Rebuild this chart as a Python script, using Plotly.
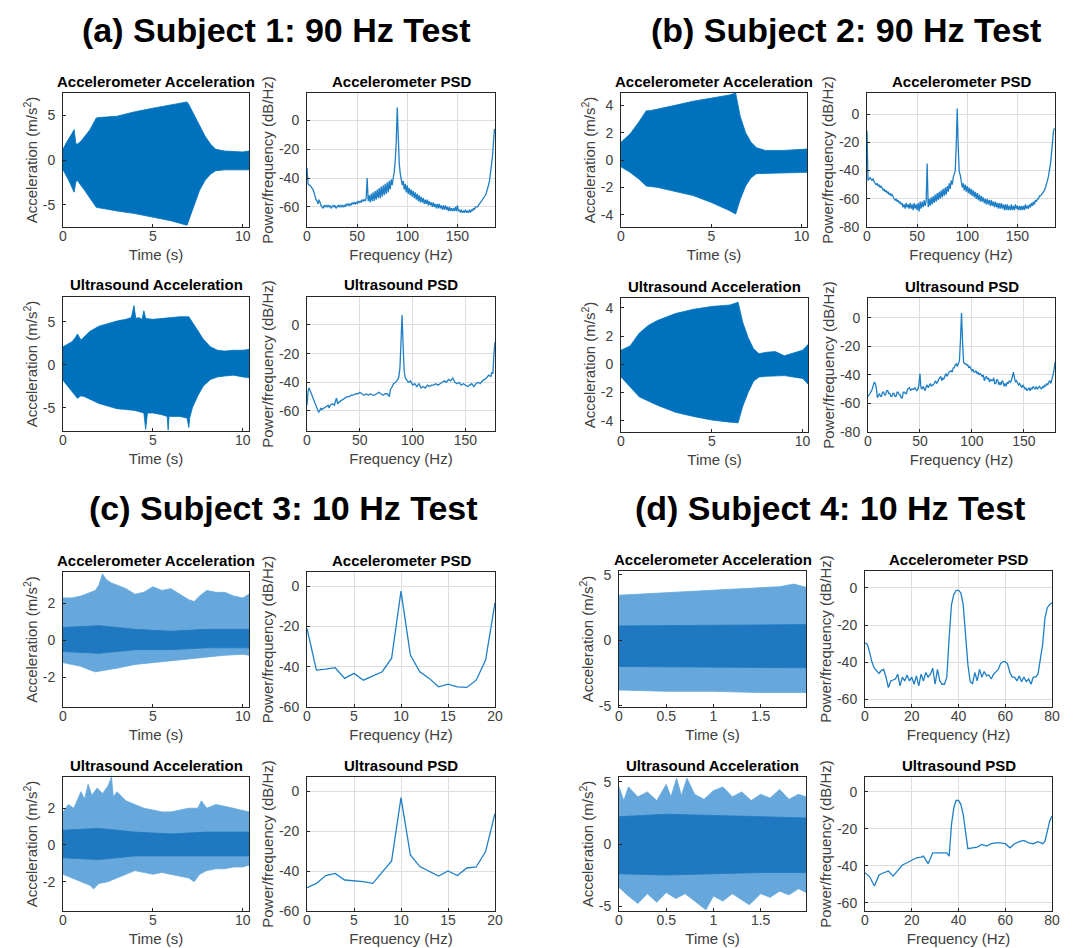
import plotly.graph_objects as go

W, H = 1079, 948
FONT = "Liberation Sans, Arial, sans-serif"
BLUE = "#0072BD"
LINE = "#1f7fc6"
LIGHT = "#66a8dc"
DARK = "#1f78c0"
TICKC = "#404040"

# ---------------- data: (a) Subject 1 ----------------
a_acc_t_up = [0, 0.2, 0.45, 0.62, 0.72, 0.8, 1.0, 1.2, 1.5, 1.85, 2.0, 3.0, 4.0, 5.0, 6.0, 6.9, 7.0, 7.3, 7.6, 7.9, 8.2, 8.5, 9.0, 10.0, 10.35]
a_acc_up = [1.2, 2.0, 2.8, 3.4, 1.8, 1.8, 2.1, 2.6, 3.4, 4.7, 4.75, 4.9, 5.4, 5.8, 6.2, 6.5, 6.2, 5.0, 3.8, 2.7, 1.8, 1.2, 1.0, 0.9, 1.0]
a_acc_t_lo = [0, 0.3, 0.62, 0.72, 0.8, 1.2, 1.85, 2.0, 3.0, 4.0, 5.0, 6.0, 6.9, 7.0, 7.3, 7.6, 7.9, 8.2, 8.5, 9.0, 10.35]
a_acc_lo = [-1.1, -2.2, -3.6, -2.4, -2.3, -3.4, -5.3, -5.4, -5.7, -6.0, -6.4, -6.8, -7.3, -6.8, -5.0, -3.4, -2.3, -1.6, -1.2, -1.1, -1.1]

a_acc_psd = [-33, -44, -45, -45, -46, -47, -48, -50, -53, -55, -56, -58, -55, -58, -59, -60, -61, -59, -60, -59,
             -60, -59, -60, -59, -61, -60, -59, -60, -59, -61, -60, -59, -60, -59, -60, -59, -60, -59, -60, -58,
             -59, -58, -59, -58, -59, -57, -58, -57, -58, -57, -58, -56, -57, -56, -57, -55, -56, -55, -56, -54,
             -40, -56, -52, -57, -51, -56, -50, -56, -49, -55, -48, -54, -47, -54, -46, -53, -45, -52, -44, -51,
             -43, -50, -42, -48, -41, -45, -40, -36, -28, -15, 9, -16, -30, -37, -41, -45, -42, -48, -44, -50,
             -45, -51, -47, -52, -48, -53, -49, -54, -50, -55, -51, -56, -52, -57, -53, -57, -54, -58, -55, -58,
             -55, -59, -56, -59, -57, -60, -57, -60, -58, -61, -58, -61, -58, -61, -59, -62, -59, -62, -59, -62,
             -60, -63, -60, -63, -61, -63, -61, -63, -60, -63, -59, -63, -62, -64, -62, -64, -63, -64, -62, -64,
             -63, -64, -62, -64, -62, -63, -61, -62, -60, -60, -60, -59, -58, -57, -56, -55, -54, -53, -52, -50,
             -48, -45, -42, -37, -32, -25, -15, -6]

a_us_t_up = [0, 0.3, 0.5, 0.7, 0.8, 1.0, 1.5, 2.0, 2.5, 3.0, 3.5, 3.8, 3.95, 4.05, 4.2, 4.4, 4.5, 4.6, 5.0, 5.5, 6.0, 6.5, 7.0, 7.2, 7.5, 7.8, 8.2, 8.6, 9.0, 9.5, 10.0, 10.35]
a_us_up = [2.1, 2.5, 2.7, 3.2, 3.6, 2.9, 3.9, 4.5, 4.8, 5.1, 5.3, 5.5, 6.9, 5.4, 5.5, 5.3, 6.3, 5.4, 5.3, 5.4, 5.5, 5.6, 5.6, 5.0, 4.0, 3.0, 2.1, 1.7, 1.6, 1.7, 1.7, 1.8]
a_us_t_lo = [0, 0.3, 0.5, 0.8, 1.0, 1.2, 1.5, 2.0, 2.5, 3.0, 3.5, 4.0, 4.5, 4.6, 4.7, 5.0, 5.5, 5.8, 5.85, 5.9, 6.0, 6.5, 6.9, 7.0, 7.05, 7.2, 7.5, 7.8, 8.2, 8.6, 9.0, 9.5, 10.0, 10.35]
a_us_lo = [-1.8, -2.6, -3.1, -3.9, -3.6, -3.7, -4.0, -4.5, -4.8, -5.1, -5.2, -5.3, -5.6, -7.5, -5.6, -5.6, -5.8, -6.0, -7.6, -6.0, -6.0, -6.0, -6.2, -7.3, -6.2, -5.0, -3.6, -2.5, -1.7, -1.4, -1.3, -1.2, -1.4, -1.5]

a_us_f = [0, 1, 2, 3, 4, 6, 8, 10, 11, 12, 13, 14, 16, 18, 20, 21, 22, 24, 26, 27, 28, 29, 30, 32, 34, 36, 38, 40, 42, 44,
          46, 48, 50, 52, 54, 56, 58, 60, 62, 64, 66, 68, 70, 72, 74, 76, 78, 79, 80, 82, 84, 86, 87, 88, 89, 90, 91, 92, 93, 94,
          96, 98, 100, 102, 104, 106, 108, 110, 112, 114, 116, 118, 120, 122, 124, 126, 128, 130, 132, 134, 136, 138, 140, 142, 144, 146, 148, 150, 152, 154,
          156, 158, 160, 162, 164, 166, 168, 170, 172, 174, 175, 176, 177, 178]
a_us_psd = [-56, -46, -44, -46, -48, -51, -55, -59, -61, -60, -58, -59, -58, -57, -56, -58, -56, -55, -56, -53, -51, -55, -54, -53, -52, -51, -50, -50, -49, -49,
            -48, -48, -47, -48, -49, -48, -49, -48, -49, -49, -48, -47, -48, -49, -48, -48, -50, -45, -44, -41, -40, -38, -36, -30, -12, 7, -14, -32, -37, -38,
            -40, -39, -42, -41, -43, -41, -44, -43, -44, -42, -43, -42, -42, -41, -42, -41, -40, -39, -40, -38, -39, -37, -40, -41, -40, -42, -41, -42, -43, -42,
            -41, -43, -41, -40, -41, -39, -38, -37, -35, -36, -33, -34, -20, -12]

# ---------------- data: (b) Subject 2 ----------------
b_acc_t_up = [0, 0.5, 1.0, 1.4, 1.6, 2.0, 3.0, 4.0, 5.0, 6.0, 6.35, 6.6, 6.9, 7.2, 7.5, 8.0, 9.0, 10.3]
b_acc_up = [1.3, 1.9, 2.8, 3.6, 3.6, 3.7, 4.0, 4.3, 4.5, 4.75, 4.9, 3.2, 2.0, 1.3, 0.9, 0.7, 0.7, 0.8]
b_acc_t_lo = [0, 0.5, 1.0, 1.4, 2.0, 3.0, 4.0, 5.0, 6.0, 6.35, 6.6, 6.9, 7.2, 7.5, 8.0, 9.0, 10.3]
b_acc_lo = [-0.5, -0.9, -1.4, -1.9, -2.0, -2.3, -2.6, -3.1, -3.7, -3.95, -2.9, -1.9, -1.3, -1.0, -0.95, -0.95, -0.9]

b_acc_psd = [-12, -47, -46, -45, -46, -47, -46, -48, -49, -50, -49, -51, -50, -52, -51, -52, -54, -53, -55, -54,
             -56, -55, -57, -56, -58, -57, -59, -60, -61, -60, -62, -61, -63, -62, -64, -63, -66, -64, -67, -63,
             -66, -64, -67, -63, -67, -64, -68, -63, -67, -64, -68, -63, -69, -62, -67, -62, -66, -61, -65, -62,
             -35, -66, -60, -65, -59, -64, -58, -63, -57, -62, -56, -61, -55, -60, -54, -59, -53, -58, -52, -57,
             -51, -55, -49, -53, -47, -50, -45, -42, -40, -22, 4, -24, -41, -43, -47, -52, -49, -54, -50, -55,
             -51, -56, -52, -57, -53, -58, -54, -59, -55, -60, -56, -61, -57, -62, -58, -62, -59, -63, -60, -64,
             -60, -64, -61, -65, -61, -65, -62, -66, -62, -66, -63, -67, -63, -67, -63, -67, -64, -68, -64, -68,
             -64, -68, -65, -68, -64, -68, -65, -68, -64, -67, -65, -68, -65, -68, -65, -68, -65, -68, -64, -67,
             -65, -67, -64, -66, -63, -65, -62, -64, -61, -62, -60, -60, -58, -58, -57, -56, -55, -54, -52, -50,
             -47, -44, -40, -35, -28, -20, -12, -10]

b_us_t_up = [0, 0.5, 1.0, 1.5, 2.0, 3.0, 4.0, 5.0, 6.0, 6.45, 6.7, 7.0, 7.3, 7.6, 8.0, 8.5, 9.0, 9.5, 10.0, 10.3]
b_us_up = [1.0, 1.3, 2.2, 2.75, 3.1, 3.6, 3.9, 4.1, 4.2, 4.4, 3.0, 1.9, 1.1, 0.75, 0.85, 0.9, 0.6, 0.8, 1.0, 1.4]
b_us_t_lo = [0, 0.5, 1.0, 2.0, 3.0, 4.0, 5.0, 6.0, 6.45, 6.7, 7.0, 7.3, 7.6, 8.0, 9.0, 10.0, 10.3]
b_us_lo = [-0.9, -1.6, -2.3, -2.9, -3.4, -3.7, -3.95, -4.1, -4.15, -3.0, -2.0, -1.2, -0.9, -0.85, -0.8, -1.0, -1.4]

b_us_f = [0, 2, 4, 6, 7, 8, 9, 10, 11, 12, 13, 14, 15, 16, 17, 18, 19, 20, 21, 22, 23, 24, 25, 26, 27, 28, 29, 30, 31, 32,
          33, 34, 35, 36, 37, 38, 40, 41, 42, 44, 45, 47, 48, 49, 50, 51, 52, 53, 54, 55, 56, 57, 58, 60, 61, 62, 63, 64, 65, 66,
          67, 68, 70, 71, 72, 73, 74, 75, 76, 77, 78, 80, 81, 82, 83, 84, 85, 86, 87, 88, 89, 90, 91, 92, 93, 94, 95, 96, 97, 98,
          100, 101, 102, 103, 104, 105, 106, 107, 108, 110, 111, 112, 113, 114, 115, 116, 117, 118, 119, 120, 121, 122, 123, 124, 125, 126, 127, 128, 129, 130,
          131, 132, 133, 134, 135, 136, 137, 138, 139, 140, 141, 142, 143, 144, 145, 146, 147, 148, 149, 150, 151, 152, 153, 154, 155, 156, 157, 158, 159, 160,
          161, 162, 163, 164, 165, 166, 167, 168, 169, 170, 171, 172, 173, 174, 175, 176, 177, 178, 179, 180]
b_us_psd = [-55, -53, -50, -45, -46, -49, -56, -54, -53, -55, -55, -52, -52, -54, -54, -51, -51, -53, -53, -55, -55, -53, -53, -55, -55, -52, -52, -54, -54, -56,
            -56, -52, -52, -53, -53, -50, -49, -51, -50, -50, -49, -51, -50, -47, -39, -49, -50, -48, -50, -51, -48, -47, -49, -46, -48, -47, -47, -45, -44, -46,
            -45, -43, -41, -44, -42, -43, -40, -39, -41, -39, -38, -37, -38, -35, -35, -33, -32, -34, -31, -30, -16, 3.5, -16, -31, -32, -32, -33, -33, -35, -34,
            -37, -36, -38, -38, -37, -39, -38, -40, -39, -41, -40, -44, -42, -41, -43, -42, -45, -43, -44, -44, -42, -46, -46, -43, -44, -47, -45, -47, -44, -45,
            -48, -46, -48, -45, -46, -44, -45, -44, -41, -38, -42, -45, -44, -46, -47, -46, -48, -49, -47, -48, -50, -49, -51, -50, -49, -51, -49, -50, -48, -49,
            -50, -48, -50, -49, -48, -49, -50, -48, -49, -47, -48, -46, -47, -45, -44, -46, -43, -42, -37, -31]

# ---------------- data: (c) Subject 3 ----------------
c_acc_t_up = [0, 0.5, 1.0, 1.5, 1.8, 2.0, 2.2, 2.4, 2.7, 3.0, 3.5, 4.0, 4.5, 5.0, 5.5, 6.0, 6.5, 7.0, 7.3, 7.6, 8.0, 8.5, 9.0, 9.5, 10.0, 10.35]
c_acc_up = [2.3, 2.3, 2.4, 2.6, 2.7, 3.0, 3.6, 3.3, 3.1, 3.0, 2.8, 2.5, 2.6, 2.9, 2.7, 2.8, 2.5, 2.2, 2.1, 2.4, 2.7, 2.6, 2.6, 2.4, 2.3, 2.5]
c_acc_t_lo = [0, 0.5, 1.0, 1.5, 1.8, 2.5, 3.0, 4.0, 5.0, 6.0, 7.0, 8.0, 9.0, 10.0, 10.35]
c_acc_lo = [-1.2, -1.3, -1.4, -1.6, -1.7, -1.6, -1.5, -1.3, -1.2, -1.1, -1.0, -0.9, -0.8, -0.75, -0.8]
c_acc_t_in = [0, 2, 4, 6, 8, 10.35]
c_acc_in_up = [0.7, 0.8, 0.6, 0.5, 0.6, 0.6]
c_acc_in_lo = [-0.6, -0.7, -0.5, -0.5, -0.4, -0.4]

c_psd_f = [0, 1, 2, 3, 4, 5, 6, 7, 8, 9, 10, 11, 12, 13, 14, 15, 16, 17, 18, 19, 20]
c_acc_psd = [-21, -41.7, -41.2, -40.5, -45.8, -43.3, -46.7, -44.5, -42.5, -35.8, -2.5, -34.2, -42.5, -45.8, -50, -48.7, -50, -50.3, -46.7, -36.7, -8.3]

c_us_t_up = [0, 0.3, 0.6, 1.0, 1.2, 1.4, 1.6, 1.9, 2.2, 2.5, 2.7, 2.8, 3.0, 3.5, 4.0, 4.5, 5.0, 5.5, 6.0, 6.5, 7.0, 7.5, 7.7, 8.0, 8.5, 9.0, 9.5, 10.0, 10.35]
c_us_up = [1.8, 2.2, 2.0, 2.9, 2.5, 3.3, 2.7, 3.1, 2.8, 3.2, 3.7, 2.6, 2.9, 2.4, 2.2, 2.0, 1.9, 1.8, 1.8, 1.9, 2.0, 2.0, 2.4, 2.0, 2.2, 2.1, 2.0, 1.9, 1.8]
c_us_t_lo = [0, 0.5, 1.0, 1.5, 1.7, 2.0, 2.5, 3.0, 3.5, 4.0, 4.5, 5.0, 5.5, 6.0, 6.5, 7.0, 7.3, 7.6, 8.0, 8.5, 9.0, 9.5, 10.0, 10.35]
c_us_lo = [-1.6, -1.8, -2.0, -2.2, -2.4, -2.1, -2.0, -1.8, -1.6, -1.4, -1.5, -1.6, -1.5, -1.6, -1.7, -1.8, -2.0, -1.6, -1.4, -1.3, -1.3, -1.2, -1.2, -1.1]
c_us_t_in = [0, 2, 4, 6, 8, 10.35]
c_us_in_up = [0.8, 0.9, 0.7, 0.6, 0.7, 0.7]
c_us_in_lo = [-0.7, -0.8, -0.6, -0.6, -0.6, -0.6]

c_us_psd = [-48.3, -46.2, -42.3, -41.2, -44.5, -45, -45.3, -46.2, -40.3, -35, -3.3, -32, -37.8, -40.3, -42.5, -40, -42.3, -38.5, -38, -30.3, -11.2]

# ---------------- data: (d) Subject 4 ----------------
d_acc_t_up = [0, 0.25, 0.5, 0.75, 1.0, 1.25, 1.5, 1.7, 1.85, 1.98]
d_acc_up = [3.45, 3.55, 3.6, 3.7, 3.85, 3.9, 4.0, 4.1, 4.3, 4.05]
d_acc_t_lo = [0, 0.5, 1.0, 1.5, 1.98]
d_acc_lo = [-3.8, -3.9, -3.9, -4.0, -4.0]
d_acc_t_in = [0, 1.98]
d_acc_in_up = [1.1, 1.2]
d_acc_in_lo = [-2.0, -2.1]

d_acc_psd = [-29.5, -30.4, -34.8, -40, -43.2, -44.6, -46, -44.3, -43.8, -48, -53.6, -50, -49.6, -49, -46.4, -52.7, -48, -50, -46.8, -50,
             -48, -51.8, -47.3, -52.7, -46.4, -50, -45.5, -47.9, -46.4, -43.2, -51.8, -43.8, -50, -51.8, -51.8, -48, -26.8, -9, -3.6, -1.4,
             -1.4, -2.7, -9, -23, -41, -50.4, -51.4, -45.5, -50, -43.8, -48, -45, -47.3, -46.8, -49, -46.4, -45, -43.8, -40.7, -39.6,
             -39.6, -41, -45.5, -47.9, -48, -50, -47.3, -50.4, -47.9, -50.4, -49, -51.8, -48, -47.9, -46.4, -39.3, -30.4, -16, -10.7, -8.9, -8]
d_acc_f = list(range(0, 81))

d_us_t_up = [0, 0.05, 0.1, 0.2, 0.3, 0.4, 0.5, 0.55, 0.61, 0.66, 0.72, 0.8, 0.9, 1.0, 1.1, 1.2, 1.3, 1.4, 1.5, 1.6, 1.7, 1.8, 1.9, 1.98]
d_us_up = [4.6, 3.5, 4.6, 3.8, 4.2, 3.5, 4.8, 3.8, 5.3, 3.9, 5.3, 4.0, 3.6, 4.3, 4.6, 3.8, 4.2, 3.5, 4.0, 3.7, 4.4, 3.6, 4.0, 3.8]
d_us_t_lo = [0, 0.1, 0.2, 0.3, 0.4, 0.5, 0.6, 0.7, 0.8, 0.92, 1.0, 1.1, 1.2, 1.3, 1.38, 1.5, 1.6, 1.7, 1.8, 1.9, 1.98]
d_us_lo = [-3.5, -4.2, -4.8, -4.0, -4.7, -3.9, -4.4, -4.0, -4.6, -5.3, -4.2, -4.6, -4.0, -4.5, -4.9, -4.0, -4.3, -3.8, -4.1, -3.6, -3.9]
d_us_t_in = [0, 0.5, 1.0, 1.5, 1.98]
d_us_in_up = [2.2, 2.4, 2.3, 2.2, 2.1]
d_us_in_lo = [-2.4, -2.5, -2.4, -2.3, -2.3]

d_us_f = [0, 2, 4, 6, 8, 10, 12, 14, 16, 18, 20, 22, 24, 25, 27, 29, 32, 35, 36, 37, 38, 39, 40, 41, 42, 43, 44, 46, 48, 50,
          52, 54, 56, 58, 60, 62, 64, 66, 68, 70, 72, 74, 76, 77, 78, 79, 80]
d_us_psd = [-43.8, -46, -51, -45, -43.8, -42.9, -45.6, -42.5, -39.6, -38.4, -37.1, -35.7, -35.3, -34.8, -38.9, -33, -33, -33, -34.8, -17.7,
            -8.6, -4.7, -4.7, -6.8, -12.3, -21, -30.8, -30.3, -29.9, -28.5, -29.4, -28.1, -27.6, -27.6, -28.1, -30.3, -28.1, -27, -26.3, -27.6,
            -28.1, -27, -28.1, -26.7, -21.3, -15.9, -13.2]

# ---------------- text ----------------
panel_titles = ["(a) Subject 1: 90 Hz Test", "(b) Subject 2: 90 Hz Test",
                "(c) Subject 3: 10 Hz Test", "(d) Subject 4: 10 Hz Test"]
sub_titles = ["Accelerometer Acceleration", "Accelerometer PSD", "Ultrasound Acceleration", "Ultrasound PSD"]
time_label = "Time (s)"
freq_label = "Frequency (Hz)"
acc_label = "Acceleration (m/s<sup>2</sup>)"
psd_label = "Power/frequency (dB/Hz)"

# ---------------- layout geometry (pixels: L, R, T, B) ----------------
boxes = [
    (55, 241, 85, 219), (299, 487, 85, 219), (55, 241, 289, 423), (299, 487, 289, 423),
    (613, 799, 85, 219), (859, 1047, 85, 219), (613, 800, 290, 424), (860, 1047, 290, 424),
    (55, 241, 564, 699), (299, 487, 564, 699), (55, 241, 769, 903), (299, 487, 769, 903),
    (611, 798, 563, 699), (857, 1044, 563, 699), (611, 798, 769, 903), (857, 1044, 769, 903),
]
title_pos = [(268, 22), (838, 22), (275, 500), (822, 500)]

fig = go.Figure()


def ticks(vals):
    return [("%g" % v) for v in vals]


def setup_axis(i, xr, yr, xt, yt, grid):
    L, R, T, B = boxes[i]
    kind = i % 4
    n = "" if i == 0 else str(i + 1)
    common = dict(showline=True, mirror=True, linecolor="#262626", linewidth=1,
                  ticks="inside", ticklen=3, tickcolor="#262626", zeroline=False,
                  showgrid=grid, gridcolor="#dedede", gridwidth=1, automargin=False,
                  tickfont=dict(family=FONT, size=14, color=TICKC), fixedrange=True)
    xtitle = time_label if kind in (0, 2) else freq_label
    ytitle = acc_label if kind in (0, 2) else psd_label
    fig.layout["xaxis" + n] = dict(domain=[L / W, R / W], range=xr, tickvals=xt, ticktext=ticks(xt),
                                  anchor="y" + n, ticklabelstandoff=-4,
                                  title=dict(text=xtitle, standoff=6,
                                             font=dict(family=FONT, size=15, color=TICKC)),
                                  **common)
    fig.layout["yaxis" + n] = dict(domain=[1 - B / H, 1 - T / H], range=yr, tickvals=yt, ticktext=ticks(yt),
                                  anchor="x" + n, ticklabelstandoff=4,
                                  title=dict(text=ytitle, standoff=1,
                                             font=dict(family=FONT, size=15, color=TICKC)),
                                  **common)


def band(i, t_up, up, t_lo, lo, color):
    xa, ya = "x" + ("" if i == 0 else str(i + 1)), "y" + ("" if i == 0 else str(i + 1))
    fig.add_trace(go.Scatter(x=list(t_up) + list(t_lo)[::-1], y=list(up) + list(lo)[::-1],
                             fill="toself", fillcolor=color, mode="lines",
                             line=dict(color=color, width=0.8), xaxis=xa, yaxis=ya,
                             showlegend=False, hoverinfo="skip"))


def curve(i, f, v):
    xa, ya = "x" + ("" if i == 0 else str(i + 1)), "y" + ("" if i == 0 else str(i + 1))
    fig.add_trace(go.Scatter(x=f, y=v, mode="lines", line=dict(color=LINE, width=1.3),
                             xaxis=xa, yaxis=ya, showlegend=False))


# (a)
setup_axis(0, [0, 10.35], [-7.5, 7.5], [0, 5, 10], [-5, 0, 5], False)
band(0, a_acc_t_up, a_acc_up, a_acc_t_lo, a_acc_lo, BLUE)
setup_axis(1, [0, 187.5], [-74, 19], [0, 50, 100, 150], [-60, -40, -20, 0], True)
curve(1, list(range(len(a_acc_psd))), a_acc_psd)
setup_axis(2, [0, 10.35], [-7.7, 7.9], [0, 5, 10], [-5, 0, 5], False)
band(2, a_us_t_up, a_us_up, a_us_t_lo, a_us_lo, BLUE)
setup_axis(3, [0, 178], [-74, 19.5], [0, 50, 100, 150], [-60, -40, -20, 0], True)
curve(3, a_us_f, a_us_psd)

# (b)
setup_axis(4, [0, 10.3], [-4.9, 4.9], [0, 5, 10], [-4, -2, 0, 2, 4], False)
band(4, b_acc_t_up, b_acc_up, b_acc_t_lo, b_acc_lo, BLUE)
setup_axis(5, [0, 187.5], [-80, 15], [0, 50, 100, 150], [-80, -60, -40, -20, 0], True)
curve(5, list(range(len(b_acc_psd))), b_acc_psd)
setup_axis(6, [0, 10.3], [-4.8, 4.7], [0, 5, 10], [-4, -2, 0, 2, 4], False)
band(6, b_us_t_up, b_us_up, b_us_t_lo, b_us_lo, BLUE)
setup_axis(7, [0, 180], [-80, 14], [0, 50, 100, 150], [-80, -60, -40, -20, 0], True)
curve(7, b_us_f, b_us_psd)

# (c)
setup_axis(8, [0, 10.35], [-3.6, 3.7], [0, 5, 10], [-2, 0, 2], False)
band(8, c_acc_t_up, c_acc_up, c_acc_t_lo, c_acc_lo, LIGHT)
band(8, c_acc_t_in, c_acc_in_up, c_acc_t_in, c_acc_in_lo, DARK)
setup_axis(9, [0, 20], [-60, 7], [0, 5, 10, 15, 20], [-60, -40, -20, 0], True)
curve(9, c_psd_f, c_acc_psd)
setup_axis(10, [0, 10.35], [-3.6, 3.7], [0, 5, 10], [-2, 0, 2], False)
band(10, c_us_t_up, c_us_up, c_us_t_lo, c_us_lo, LIGHT)
band(10, c_us_t_in, c_us_in_up, c_us_t_in, c_us_in_lo, DARK)
setup_axis(11, [0, 20], [-60, 7], [0, 5, 10, 15, 20], [-60, -40, -20, 0], True)
curve(11, c_psd_f, c_us_psd)

# (d)
setup_axis(12, [0, 1.98], [-5.1, 5.3], [0, 0.5, 1, 1.5], [-5, 0, 5], False)
band(12, d_acc_t_up, d_acc_up, d_acc_t_lo, d_acc_lo, LIGHT)
band(12, d_acc_t_in, d_acc_in_up, d_acc_t_in, d_acc_in_lo, DARK)
setup_axis(13, [0, 80], [-64, 9], [0, 20, 40, 60, 80], [-60, -40, -20, 0], True)
curve(13, d_acc_f, d_acc_psd)
setup_axis(14, [0, 1.98], [-5.4, 5.4], [0, 0.5, 1, 1.5], [-5, 0, 5], False)
band(14, d_us_t_up, d_us_up, d_us_t_lo, d_us_lo, LIGHT)
band(14, d_us_t_in, d_us_in_up, d_us_t_in, d_us_in_lo, DARK)
setup_axis(15, [0, 80], [-64.5, 8], [0, 20, 40, 60, 80], [-60, -40, -20, 0], True)
curve(15, d_us_f, d_us_psd)


def ann(text, x, y, size, color="#000"):
    fig.add_annotation(text=text, x=x / W, y=1 - y / H, xref="paper", yref="paper",
                       showarrow=False, xanchor="center", yanchor="middle",
                       font=dict(family=FONT, size=size, color=color))


for k, (tx, ty) in enumerate(title_pos):
    ann("<b>" + panel_titles[k] + "</b>", tx, ty, 34)

for i, (L, R, T, B) in enumerate(boxes):
    ann("<b>" + sub_titles[i % 4] + "</b>", (L + R) / 2, T - 12, 15)

fig.update_layout(width=W, height=H, margin=dict(l=0, r=0, t=0, b=0),
                  paper_bgcolor="white", plot_bgcolor="white", showlegend=False)

fig.write_html("out.html")
